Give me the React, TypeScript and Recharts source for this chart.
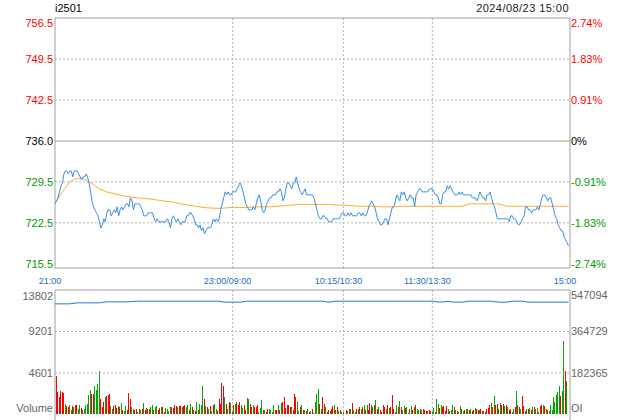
import { ComposedChart, Line, Bar, Cell, XAxis, YAxis, ReferenceLine } from 'recharts';

const FONT = '"Liberation Sans", Arial, Helvetica, sans-serif';
const RED = '#ff0000';
const GREEN = '#009900';
const BAR_GREEN = '#00a800';
const GRID = '#b4b4b4';
const FRAME = '#a0a0a0';

const symbol = 'i2501';
const stamp = '2024/08/23 15:00';

const timeTicks = [0, 120, 195, 255, 348];
const timeLabels = ['21:00', '23:00/09:00', '10:15/10:30', '11:30/13:30', '15:00'];
const priceLabels = ['756.5', '749.5', '742.5', '736.0', '729.5', '722.5', '715.5'];
const pctLabels = ['2.74%', '1.83%', '0.91%', '0%', '-0.91%', '-1.83%', '-2.74%'];
const volLabels = ['13802', '9201', '4601', 'Volume'];
const oiLabels = ['547094', '364729', '182365', 'OI'];

const prevClose = 736.0;
const priceSpan = 20.5;
const volTop = 13802;
const oiTop = 547094;

// last price, one per minute (21:00 -> 15:00)
const prices = [
  725.5, 726, 726.5, 727.5, 728.5, 729, 730.5, 731, 731, 730.5,
  731, 731, 730, 731, 731, 731, 730.5, 730, 729.5, 730,
  730, 730.5, 730, 729, 727.5, 726, 725, 724.5, 724, 723.5,
  722.5, 721.5, 722, 723, 722.5, 724, 724.5, 724.5, 723.5, 724,
  724.5, 724, 725, 723.5, 724.5, 725, 724.5, 725, 725.5, 725.5,
  725, 726.5, 726, 724.5, 725.5, 725.5, 725.5, 725.5, 725, 724.5,
  723.5, 723.5, 723.5, 724, 724, 724, 724, 723, 722.5, 723,
  722.5, 722.5, 722.5, 722.5, 722.5, 722.5, 723, 722.5, 721.5, 723,
  723.5, 723, 722.5, 723, 722.5, 722, 722.5, 722.5, 722.5, 723.5,
  723.5, 724, 724, 723.5, 723, 722, 722, 721.5, 722, 721,
  721.5, 720.5, 721, 721.5, 721.5, 721.5, 722, 723, 722.5, 723,
  722.5, 723, 724.5, 725.5, 726.5, 727.5, 727, 727.5, 727, 727,
  727.5, 727.5, 727.5, 728, 728.5, 729, 728.5, 727.5, 726.5, 725.5,
  725, 724.5, 724.5, 724.5, 725, 724.5, 725.5, 726.5, 727, 726,
  724.5, 724, 724.5, 725.5, 726, 726.5, 726.5, 727, 727, 727,
  727.5, 727.5, 728, 727.5, 726, 726.5, 728, 729, 729, 728.5,
  728, 729, 729, 730, 729, 728, 727.5, 727, 727.5, 728,
  727, 727, 727, 727, 727, 726.5, 725.5, 724.5, 723.5, 723,
  723, 723.5, 723.5, 723, 723, 722.5, 722.5, 722.5, 723, 723,
  723, 723, 723, 723.5, 724, 724, 723.5, 723.5, 724, 723.5,
  724, 723.5, 723.5, 723.5, 723.5, 724, 724, 723.5, 724, 723.5,
  723.5, 724, 725, 725.5, 726, 725.5, 725, 724, 723, 722.5,
  722, 722, 722.5, 723, 723, 722, 723, 724, 725, 725,
  726, 727, 726.5, 726, 727.5, 727, 727.5, 726.5, 726, 726.5,
  727, 726.5, 726.5, 725, 727, 727.5, 728, 728, 727.5, 727.5,
  727.5, 727.5, 727.5, 728, 728, 728, 727.5, 727, 727, 726.5,
  725.5, 725.5, 727, 727.5, 727.5, 728.5, 728, 728.5, 728, 727.5,
  727, 727, 727, 727.5, 727, 727.5, 727, 727, 727, 727,
  727, 727, 726.5, 726.5, 726.5, 726, 726.5, 727.5, 727, 726.5,
  726.5, 726, 727, 727, 727.5, 726.5, 725.5, 725, 724, 723,
  723, 723, 723, 723, 723, 723, 723, 722.5, 723.5, 723.5,
  723, 723, 722.5, 722, 722, 722.5, 723, 723.5, 725, 725,
  724.5, 724.5, 724, 724.5, 724.5, 724.5, 725, 724.5, 725.5, 726.5,
  727, 727, 726.5, 726, 726.5, 726.5, 725.5, 724.5, 723.5, 723,
  722, 721.5, 721, 721, 720, 719.5, 719, 718.5,
];

// average price, sampled every 5 minutes (last one at the close)
const avgPrices = [
  725.6, 727.5, 729.2, 729.8, 729.6, 728.9, 728.0, 727.5, 727.2, 726.9,
  726.7, 726.5, 726.4, 726.3, 726.1, 725.9, 725.8, 725.5, 725.3, 725.1,
  724.9, 724.8, 724.75, 724.8, 724.9, 724.9, 724.9, 725.0, 725.0, 725.0,
  725.1, 725.2, 725.3, 725.4, 725.4, 725.4, 725.4, 725.4, 725.3, 725.3,
  725.2, 725.1, 725.1, 725.1, 725.0, 725.0, 725.0, 725.1, 725.1, 725.1,
  725.1, 725.1, 725.1, 725.1, 725.1, 725.1, 725.5, 725.5, 725.5, 725.5,
  725.5, 725.1, 725.1, 725.1, 725.1, 725.1, 725.1, 725.1, 725.1, 725.1,
  725.0,
];

// open interest, sampled every 5 minutes
const openInterest = [
  486300, 486300, 486300, 490600, 490600, 490600, 490600, 495000, 495000, 495000,
  495000, 498000, 498000, 498000, 498000, 498000, 498000, 498000, 498000, 498000,
  498000, 498000, 498000, 493700, 493700, 493700, 498000, 498000, 498000, 498000,
  498000, 498000, 498000, 498000, 498000, 498000, 498000, 493700, 498000, 498000,
  498000, 498000, 498000, 498000, 498000, 498000, 498000, 498000, 498000, 498000,
  498000, 498000, 493700, 497000, 493700, 493700, 498000, 498000, 498000, 498000,
  493700, 493700, 498000, 498000, 493700, 493700, 493700, 493700, 493700, 493700,
  493700,
];

// volume per minute; sign = tick direction (+ up / red, - down / green)
const volumes = [
  12200, 4240, 2480, 1930, 2660, 2480, 2410, -1200, 910, 840,
  -1100, -475, 910, -840, 1100, 1100, -660, -1100, 730, 475,
  -660, -1100, -1200, -2120, -2740, 2300, 2300, -3210, -2740, -3400,
  -4850, 1750, 840, 1400, -1930, 2040, 2120, 2300, -900, -660,
  950, 1020, 770, -900, 840, -1300, 475, -370, -900, 475,
  2370, 1680, -840, -580, 475, 580, -300, 660, -475, 580,
  -1300, 475, -730, 580, 660, -840, -1100, 475, -840, -950,
  475, 730, -840, 840, 300, -730, -660, -370, -800, 840,
  770, 1100, 950, -840, 950, 900, -840, 950, 1020, -840,
  -1020, 475, -1200, 840, -550, 370, -1400, 475, -1200, -1100,
  -3140, 1680, -910, 840, -585, 950, -365, 1095, -1205, -660,
  365, 1750, 1205, 3500, 3140, -1935, 1205, -660, 1390, -1315,
  -400, 1095, -1205, 1390, 1020, 1390, -1020, -730, 1020, 500,
  -1825, -1680, 1130, 840, -1020, 840, 840, 1020, -300, -730,
  -1570, 475, -475, 290, 660, -660, -475, -250, -1095, 475,
  475, -1095, 475, -1315, 1390, 1935, 700, 1020, 1020, 840,
  -840, 475, 2300, 1935, -1390, -400, 840, -1020, 475, -475,
  365, -660, 290, -365, 660, -200, -1390, -2300, -2850, 1205,
  -660, 1935, 1205, -840, 300, 475, -365, 585, 910, -1020,
  475, 840, -365, 475, -290, -290, -110, 475, -365, 585,
  -660, 1315, -475, -300, 660, -585, 840, -660, 840, -1020,
  475, -1020, 500, 1315, 1095, -840, 1020, -1570, 660, -840,
  475, 250, 1020, 840, -660, 1095, -730, 840, 2190, 660,
  -300, -1095, 840, -1460, 840, -475, -950, 730, -840, -200,
  585, -950, 475, -840, 1020, -660, -500, 660, -475, 660,
  475, 365, -365, 475, 365, -250, -730, 290, -1750, -1205,
  730, -1095, 840, 910, 400, 910, -660, 365, -475, -1095,
  840, -475, 365, -300, -910, 585, -365, 475, -660, -660,
  475, -585, 350, 475, -730, 660, 475, -475, 585, 365,
  -365, 250, 585, 730, 1020, -1315, 840, -2040, 1020, 1205,
  -600, -1315, 1020, 1205, -950, 1095, -840, 475, 660, -300,
  -660, 840, -2660, 1095, 840, -585, 2040, 950, 400, -660,
  585, -730, 475, -840, 840, -585, -730, 300, 950, 1020,
  -1020, 950, -660, 475, -365, -1020, -500, -1935, -1390, -2120,
  -2480, -3140, 2040, -2660, -8140, 4850, -3760, 0,
];

const X_DOMAIN: [number, number] = [0, 348];
const PLOT_L = 55;
const PLOT_R = 570;

const priceGrid = priceLabels.map((_, k) => prevClose + ((3 - k) * priceSpan) / 3);
const PRICE_DOMAIN: [number, number] = [714.78, 756.55];
const volGrid = volLabels.map((_, k) => (volTop * (3 - k)) / 3);
const oiGrid = oiLabels.map((_, k) => (oiTop * (3 - k)) / 3);
const VOL_DOMAIN: [number, number] = [-610, volTop];
const OI_DOMAIN: [number, number] = [-24169, oiTop];

type Row = { t: number; price: number; avg: number | null; oi: number | null; vol: number; up: boolean };
const rows: Row[] = prices.map((p, i) => ({
  t: i,
  price: p,
  avg: null,
  oi: null,
  vol: Math.abs(volumes[i]),
  up: volumes[i] > 0,
}));
avgPrices.forEach((v, k) => {
  const t = Math.min(k * 5, prices.length - 1);
  rows[t].avg = v;
  rows[t].oi = openInterest[k];
});

const findK = (list: number[], v: number) => list.findIndex((g) => Math.abs(g - v) < 1e-6);
const priceColor = (k: number) => (k < 3 ? RED : k === 3 ? '#000' : GREEN);

function PriceTick(props: any) {
  const k = findK(priceGrid, props.payload.value);
  if (k < 0) return <g />;
  return (
    <text x={PLOT_L - 2} y={props.y + (k === 0 ? 5 : 0)} dy="0.36em" textAnchor="end"
      fill={priceColor(k)} fontSize={11} fontFamily={FONT}>{priceLabels[k]}</text>
  );
}

function PctTick(props: any) {
  const k = findK(priceGrid, props.payload.value);
  if (k < 0) return <g />;
  return (
    <text x={PLOT_R + 1} y={props.y + (k === 0 ? 5 : 0)} dy="0.36em" textAnchor="start"
      fill={priceColor(k)} fontSize={11} fontFamily={FONT}>{pctLabels[k]}</text>
  );
}

function VolTick(props: any) {
  const k = findK(volGrid, props.payload.value);
  if (k < 0) return <g />;
  const shift = k === 0 ? 6 : k === 3 ? -6 : 0;
  return (
    <text x={PLOT_L - 2} y={props.y + shift} dy="0.36em" textAnchor="end"
      fill="#666" fontSize={11} fontFamily={FONT}>{volLabels[k]}</text>
  );
}

function OiTick(props: any) {
  const k = findK(oiGrid, props.payload.value);
  if (k < 0) return <g />;
  const shift = k === 0 ? 5.5 : k === 3 ? -6.5 : 0;
  return (
    <text x={PLOT_R + 1} y={props.y + shift} dy="0.36em" textAnchor="start"
      fill="#666" fontSize={11} fontFamily={FONT}>{oiLabels[k]}</text>
  );
}

function TimeTick(props: any) {
  const k = findK(timeTicks, props.payload.value);
  if (k < 0) return <g />;
  return (
    <text x={props.x - 5} y={props.y + 2} dy="0.71em" textAnchor="middle"
      fill="#1a6fc8" fontSize={9} fontFamily={FONT}>{timeLabels[k]}</text>
  );
}

export default function App() {
  return (
    <div style={{ position: 'absolute', left: 0, top: 0, width: 620, height: 420, background: '#fff', fontFamily: FONT }}>
      <div style={{ position: 'absolute', left: 55, top: 2, fontSize: 11, lineHeight: '13px', color: '#000' }}>{symbol}</div>
      <div style={{ position: 'absolute', right: 51, top: 2, fontSize: 11, lineHeight: '13px', color: '#222', letterSpacing: '0.45px' }}>{stamp}</div>

      <div style={{ position: 'absolute', left: 0, top: 0 }}>
        <ComposedChart width={620} height={290} data={rows} margin={{ top: 18, right: 0, bottom: 0, left: 0 }}>
          <XAxis type="number" dataKey="t" domain={X_DOMAIN} ticks={timeTicks} interval={0} allowDataOverflow
            axisLine={false} tickLine={false} height={22} tick={TimeTick} />
          <YAxis yAxisId="p" orientation="left" width={55} domain={PRICE_DOMAIN} ticks={priceGrid} interval={0}
            allowDataOverflow axisLine={false} tickLine={false} tick={PriceTick} />
          <YAxis yAxisId="pct" orientation="right" width={50} domain={PRICE_DOMAIN} ticks={priceGrid} interval={0}
            allowDataOverflow axisLine={false} tickLine={false} tick={PctTick} />
          {[1, 2, 4, 5].map((k) => (
            <ReferenceLine key={'h' + k} yAxisId="p" y={priceGrid[k]} stroke={GRID} strokeDasharray="2 2" />
          ))}
          {timeTicks.slice(1, 4).map((t) => (
            <ReferenceLine key={'v' + t} yAxisId="p" x={t} stroke={GRID} strokeDasharray="2 2" />
          ))}
          <ReferenceLine yAxisId="p" y={prevClose} stroke={FRAME} />
          <ReferenceLine yAxisId="p" y={PRICE_DOMAIN[1]} stroke={FRAME} />
          <ReferenceLine yAxisId="p" y={PRICE_DOMAIN[0]} stroke={FRAME} />
          <ReferenceLine yAxisId="p" x={X_DOMAIN[0]} stroke={FRAME} />
          <ReferenceLine yAxisId="p" x={X_DOMAIN[1]} stroke={FRAME} />
          <Line yAxisId="p" dataKey="avg" connectNulls stroke="#ffac2a" strokeWidth={1} dot={false}
            activeDot={false} isAnimationActive={false} />
          <Line yAxisId="p" dataKey="price" stroke="#3a8ee4" strokeWidth={1} dot={false}
            activeDot={false} isAnimationActive={false} />
        </ComposedChart>
      </div>

      <div style={{ position: 'absolute', left: 0, top: 280 }}>
        <ComposedChart width={620} height={140} data={rows} margin={{ top: 10, right: 0, bottom: 0, left: 0 }}>
          <XAxis type="number" dataKey="t" domain={X_DOMAIN} allowDataOverflow hide />
          <YAxis yAxisId="v" orientation="left" width={55} domain={VOL_DOMAIN} ticks={volGrid} interval={0}
            allowDataOverflow axisLine={false} tickLine={false} tick={VolTick} />
          <YAxis yAxisId="oi" orientation="right" width={50} domain={OI_DOMAIN} ticks={oiGrid} interval={0}
            allowDataOverflow axisLine={false} tickLine={false} tick={OiTick} />
          {[1, 2].map((k) => (
            <ReferenceLine key={'vh' + k} yAxisId="v" y={volGrid[k]} stroke={GRID} strokeDasharray="2 2" />
          ))}
          {timeTicks.slice(1, 4).map((t) => (
            <ReferenceLine key={'vv' + t} yAxisId="v" x={t} stroke={GRID} strokeDasharray="2 2" />
          ))}
          <ReferenceLine yAxisId="v" y={VOL_DOMAIN[1]} stroke={FRAME} />
          <ReferenceLine yAxisId="v" x={X_DOMAIN[0]} stroke={FRAME} />
          <ReferenceLine yAxisId="v" x={X_DOMAIN[1]} stroke={FRAME} />
          <Bar yAxisId="v" dataKey="vol" barSize={1} isAnimationActive={false} shapeRendering="crispEdges">
            {rows.map((r) => (
              <Cell key={r.t} fill={r.up ? RED : BAR_GREEN} />
            ))}
          </Bar>
          <Line yAxisId="oi" dataKey="oi" connectNulls stroke="#1f7ad6" strokeWidth={1} dot={false}
            activeDot={false} isAnimationActive={false} />
        </ComposedChart>
      </div>
    </div>
  );
}
